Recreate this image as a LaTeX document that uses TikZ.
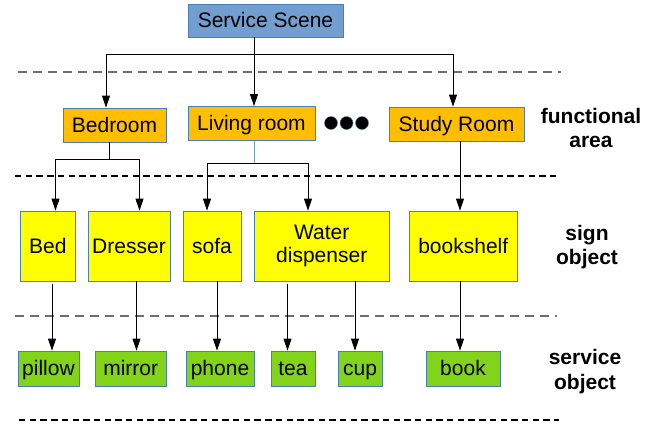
\documentclass[tikz,border=0pt]{standalone}
\usepackage{fontspec}
\setmainfont{Liberation Sans}
\usetikzlibrary{arrows.meta}
\definecolor{ssblue}{RGB}{114,159,207}
\definecolor{edgeblue}{RGB}{74,126,187}
\definecolor{orangefill}{RGB}{255,191,0}
\definecolor{yellowfill}{RGB}{255,255,0}
\definecolor{greenfill}{RGB}{129,212,26}
\definecolor{dashgray}{RGB}{110,110,110}
\tikzset{
  box/.style={draw=edgeblue, line width=0.8pt, inner sep=0pt, font=\fontsize{21}{23}\selectfont, align=center},
  oneline/.style={text height=17pt, text depth=2.5pt},
  scenebox/.style={box, oneline, fill=ssblue, minimum height=33pt},
  areabox/.style={box, oneline, fill=orangefill, minimum height=34pt},
  signbox/.style={box, fill=yellowfill, minimum height=70pt},
  servbox/.style={box, oneline, fill=greenfill, minimum height=35pt},
  conn/.style={draw=black, line width=0.8pt},
  arr/.style={conn, -{Triangle[length=12pt,width=8pt]}},
  sep1/.style={draw=dashgray, line width=1.5pt, dash pattern=on 8.5pt off 6.5pt},
  sep2/.style={draw=black, line width=1.3pt, dash pattern=on 6.4pt off 4.3pt},
  layer/.style={font=\bfseries\fontsize{21}{24.5}\selectfont, align=center, inner sep=0pt},
  dot/.style={circle, fill=black, draw=edgeblue, line width=0.4pt, minimum size=13pt, inner sep=0pt}
}
\begin{document}
\begin{tikzpicture}[x=1pt, y=-1pt]
\useasboundingbox (0,0) rectangle (663,423);
% nodes
\node[scenebox, minimum width=155pt] (ss) at (265.5,20.5) {Service Scene};
\node[areabox, minimum width=103pt] (br) at (114.5,125) {Bedroom};
\node[areabox, minimum width=127pt] (lr) at (251.5,123.5) {Living room};
\node[areabox, minimum width=135pt] (sr) at (456.5,124) {Study Room};
\node[dot] (d1) at (331,123) {};
\node[dot] (d2) at (346.5,123) {};
\node[dot] (d3) at (362,123) {};
\node[signbox, oneline, minimum width=55.5pt] (bed) at (47.75,246) {Bed};
\node[signbox, oneline, minimum width=82pt] (dr) at (129,246) {Dresser};
\node[signbox, oneline, minimum width=58pt] (sofa) at (212,246) {sofa};
\node[signbox, minimum width=135.5pt] (wd) at (321.75,246) {Water\\dispenser};
\node[signbox, oneline, minimum width=108.5pt] (bs) at (463.25,246) {bookshelf};
\node[servbox, minimum width=61pt] (pil) at (48.5,368.5) {pillow};
\node[servbox, minimum width=70.5pt] (mir) at (130.75,368.5) {mirror};
\node[servbox, minimum width=68pt] (ph) at (220,368.5) {phone};
\node[servbox, minimum width=44pt] (tea) at (293,368.5) {tea};
\node[servbox, minimum width=44pt] (cup) at (360,368.5) {cup};
\node[servbox, minimum width=74pt] (bk) at (463,368.5) {book};
\node[layer] (la) at (591,128) {functional\\area};
\node[layer] (lb) at (587,247) {sign\\object};
\node[layer] (lc) at (585,371.5) {service\\object};
% separators
\coordinate (s1a) at (18,72);  \coordinate (s1b) at (561,72);
\coordinate (s2a) at (15,176); \coordinate (s2b) at (558,176);
\coordinate (s3a) at (15,316); \coordinate (s3b) at (557,316);
\coordinate (s4a) at (19,420); \coordinate (s4b) at (559,420);
\path[sep1] (s1a) -- (s1b);
\path[sep2] (s2a) -- (s2b);
\path[sep1] (s3a) -- (s3b);
\path[sep2] (s4a) -- (s4b);
% scene to areas
\coordinate (j1) at (254,54);
\coordinate (jb) at (106,54);
\coordinate (js) at (453,54);
\draw[conn] (jb) -- (js);
\draw[arr] (ss.south -| j1) -- (lr.north -| j1);
\draw[arr] (jb) -- (br.north -| jb);
\draw[arr] (js) -- (sr.north -| js);
% bedroom to sign objects
\coordinate (jbr) at (109,159);
\coordinate (jbed) at (55.5,159);
\coordinate (jdr) at (139.5,159);
\draw[conn] (br.south -| jbr) -- (jbr);
\draw[conn] (jbed) -- (jdr);
\draw[arr] (jbed) -- (bed.north -| jbed);
\draw[arr] (jdr) -- (dr.north -| jdr);
% living room to sign objects
\coordinate (jlr) at (254,164);
\coordinate (jsofa) at (207,163);
\coordinate (jwd) at (308,163);
\draw[draw=ssblue, line width=0.6pt] (lr.south -| jlr) -- (jlr);
\draw[conn] (jsofa) -- (jwd);
\draw[arr] (jsofa) -- (sofa.north -| jsofa);
\draw[arr] (jwd) -- (wd.north -| jwd);
% study room to bookshelf
\coordinate (jsr) at (460,141);
\draw[arr] (sr.south -| jsr) -- (bs.north -| jsr);
% sign to service objects
\coordinate (xp) at (52,0);
\coordinate (xm) at (136.5,0);
\coordinate (xph) at (217,0);
\coordinate (xt) at (287.5,0);
\coordinate (xc) at (355,0);
\coordinate (xb) at (460,0);
\draw[arr] ([yshift=-3pt]bed.south -| xp) -- (pil.north -| xp);
\draw[arr] (dr.south -| xm) -- (mir.north -| xm);
\draw[arr] (sofa.south -| xph) -- (ph.north -| xph);
\draw[arr] ([yshift=-3pt]wd.south -| xt) -- (tea.north -| xt);
\draw[arr] (wd.south -| xc) -- (cup.north -| xc);
\draw[arr] (bs.south -| xb) -- (bk.north -| xb);
\end{tikzpicture}
\end{document}
